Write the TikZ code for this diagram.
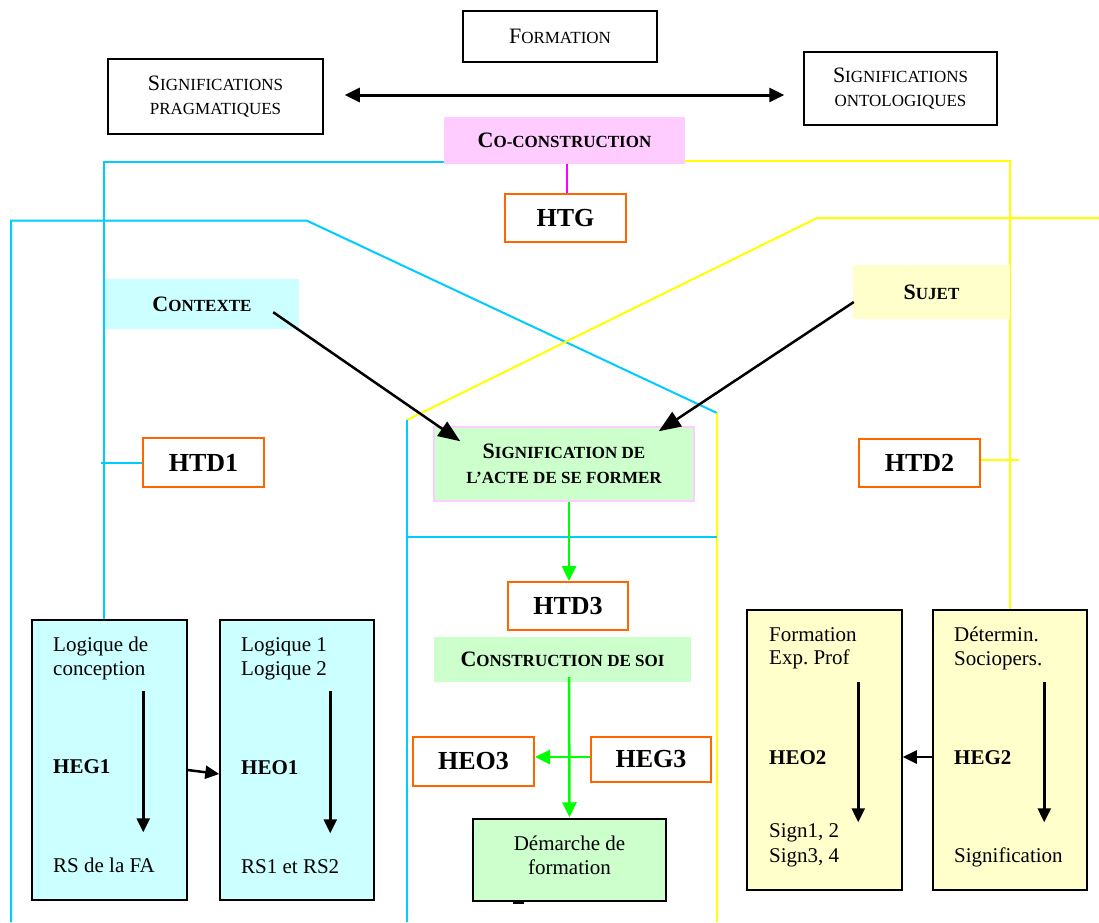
\documentclass[tikz,border=0pt]{standalone}
\usepackage{fontspec}
\setmainfont{Liberation Serif}
\usetikzlibrary{arrows.meta,calc,backgrounds}
\definecolor{cyanl}{RGB}{0,204,255}
\definecolor{yell}{RGB}{255,255,0}
\definecolor{orng}{RGB}{255,102,0}
\definecolor{pinkf}{RGB}{255,204,255}
\definecolor{cyanf}{RGB}{204,255,255}
\definecolor{yellf}{RGB}{255,255,204}
\definecolor{greenf}{RGB}{204,255,204}
\definecolor{greenl}{RGB}{0,255,0}
\definecolor{magl}{RGB}{255,0,255}
\newcommand\sck[2]{{\fontsize{22}{24}\selectfont #1}{\fontsize{17}{24}\selectfont #2}}
\frenchspacing
\begin{document}
\begin{tikzpicture}[x=1pt,y=-1pt,
  plainbox/.style={draw=black, line width=1.5pt, inner sep=0pt, align=center, font=\fontsize{17}{24}\selectfont},
  hbox/.style={draw=orng, line width=2pt, fill=white, inner sep=0pt, font=\bfseries\fontsize{26}{30}\selectfont},
  fillbox/.style={inner sep=0pt, align=center, font=\bfseries\fontsize{17}{25}\selectfont},
  colbox/.style={draw=black, line width=1.5pt, inner sep=0pt},
  txt/.style={anchor=base west, inner sep=0pt, font=\fontsize{21}{24}\selectfont},
  cyanline/.style={draw=cyanl, line width=2pt},
  yellowline/.style={draw=yell, line width=2pt},
  blackarrow/.style={draw=black, line width=2.5pt, -{Triangle[length=22pt,width=17pt]}},
  innerarrow/.style={draw=black, line width=2.5pt, -{Triangle[length=14pt,width=13pt]}},
  greenarrow/.style={draw=greenl, line width=2.5pt, -{Triangle[length=15pt,width=14pt]}},
  twoheads/.style={draw=black, line width=3pt, {Triangle[length=15pt,width=14pt]}-{Triangle[length=15pt,width=14pt]}}
]
\useasboundingbox (0,0) rectangle (1099,922);

% top boxes
\node[plainbox, minimum width=194pt, minimum height=51pt] (formation) at (560,36.5) {\sck{F}{ORMATION}};
\node[plainbox, minimum width=215pt, minimum height=75pt] (prag) at (215.5,96.5) {\sck{S}{IGNIFICATIONS}\\\sck{}{PRAGMATIQUES}};
\node[plainbox, minimum width=193pt, minimum height=73pt] (onto) at (900.5,88.5) {\sck{S}{IGNIFICATIONS}\\\sck{}{ONTOLOGIQUES}};

% filled labels
\node[fillbox, fill=pinkf, minimum width=241pt, minimum height=47pt] (coco) at (564.5,140.5) {\sck{C}{O-CONSTRUCTION}};
\node[fillbox, fill=cyanf, minimum width=194pt, minimum height=50pt] (contexte) at (202,304) {\sck{C}{ONTEXTE}};
\node[fillbox, fill=yellf, minimum width=157pt, minimum height=54pt] (sujet) at (931.5,292) {\sck{S}{UJET}};
\node[fillbox, fill=greenf, draw=pinkf, line width=1.5pt, minimum width=260pt, minimum height=74pt] (sig) at (564,464) {\sck{S}{IGNIFICATION DE}\\\sck{}{L’ACTE DE SE FORMER}};
\node[fillbox, fill=greenf, minimum width=257pt, minimum height=45pt] (csoi) at (562.5,659.5) {\sck{C}{ONSTRUCTION DE SOI}};

% orange boxes
\node[hbox, minimum width=121pt, minimum height=48pt] (htg) at (565.5,218) {HTG};
\node[hbox, minimum width=121pt, minimum height=49pt] (htd1) at (203.5,462.5) {HTD1};
\node[hbox, minimum width=121pt, minimum height=48pt] (htd2) at (919.5,463) {HTD2};
\node[hbox, minimum width=120pt, minimum height=48pt] (htd3) at (568,606) {HTD3};
\node[hbox, minimum width=121pt, minimum height=49pt] (heo3) at (473.5,761.5) {HEO3};
\node[hbox, minimum width=120pt, minimum height=45pt] (heg3) at (651,759.5) {HEG3};

% demarche
\node[colbox, fill=greenf, minimum width=193pt, minimum height=82pt] (dem) at (569.5,860) {};
\node[inner sep=0pt, align=center, font=\fontsize{21}{24}\selectfont, anchor=base] (demtxt) at (569.5,874) {Démarche de\\formation};
\fill (513,901) rectangle (524,904);

% bottom column boxes
\node[colbox, fill=cyanf, minimum width=155pt, minimum height=280pt] (b1) at (109.5,760) {};
\node[colbox, fill=cyanf, minimum width=154pt, minimum height=280pt] (b2) at (297,760) {};
\node[colbox, fill=yellf, minimum width=155pt, minimum height=280pt] (b3) at (824.5,750) {};
\node[colbox, fill=yellf, minimum width=154pt, minimum height=280pt] (b4) at (1010,750) {};

% texts in b1
\node[txt] (t11) at (53,651) {Logique de};
\node[txt] (t12) at (53,675) {conception};
\node[txt, font=\bfseries\fontsize{21}{24}\selectfont] (t13) at (53,773) {HEG1};
\node[txt] (t14) at (53,872) {RS de la FA};
% texts in b2
\node[txt] (t21) at (241,651) {Logique 1};
\node[txt] (t22) at (241,675) {Logique 2};
\node[txt, font=\bfseries\fontsize{21}{24}\selectfont] (t23) at (241,774) {HEO1};
\node[txt] (t24) at (241,873) {RS1 et RS2};
% texts in b3
\node[txt] (t31) at (769,641) {Formation};
\node[txt] (t32) at (769,664) {Exp. Prof};
\node[txt, font=\bfseries\fontsize{21}{24}\selectfont] (t33) at (769,764) {HEO2};
\node[txt] (t34) at (769,837) {Sign1, 2};
\node[txt] (t35) at (769,862) {Sign3, 4};
% texts in b4
\node[txt] (t41) at (954,641) {Détermin.};
\node[txt] (t42) at (954,665) {Sociopers.};
\node[txt, font=\bfseries\fontsize{21}{24}\selectfont] (t43) at (954,764) {HEG2};
\node[txt] (t44) at (954,862) {Signification};

% coloured lines on background
\begin{scope}[on background layer]
  \coordinate (cyTL) at (11,220.7);
  \coordinate (cyTM) at (307,220.7);
  \coordinate (cyR) at (717,413);
  \coordinate (yeTR) at (1099,218);
  \coordinate (yeTM) at (817,218);
  \coordinate (yeL) at (407,420);
  \draw[cyanline] (11,922) -- (cyTL) -- (cyTM) -- (cyR);
  \draw[yellowline] (cyR) -- (717,922);
  \draw[yellowline] (yeTR) -- (yeTM) -- (yeL);
  \draw[cyanline] (yeL) -- (407,922);
  \draw[cyanline] (yeL |- 0,537) -- (cyR |- 0,537);
  \draw[cyanline] ($(coco.west)+(0,21.5)$) -| ($(b1.north west)+(73,0)$);
  \draw[cyanline] (htd1.west) -- ++(-41,0);
  \draw[yellowline] ($(coco.east)+(0,20.5)$) -| ($(b4.north west)+(78,0)$);
  \draw[yellowline] ($(htd2.east)+(0,-3)$) -- ++(38,0);
  \draw[draw=magl, line width=2pt] ($(coco.south)+(2.5,-4)$) -- ($(htg.north)+(1.5,0)$);
\end{scope}

% arrows
\draw[twoheads, shorten <=21pt, shorten >=19pt] (prag.east |- 0,95) -- (onto.west |- 0,95);
\draw[blackarrow] ($(contexte.south east)+(-26,-17)$) -- ($(sig.north west)+(27,15)$);
\draw[blackarrow] ($(sujet.west)+(1,10)$) -- ($(sig.north east)+(-36,5)$);
\draw[greenarrow] (sig.south -| htd3.north) ++(1,0) -- ($(htd3.north)+(1,0)$);
\draw[greenarrow] ($(csoi.south)+(6.5,-5)$) -- ($(dem.north)+(0,-1)$);
\draw[greenarrow] ($(heg3.west)+(0,-2.5)$) -- ($(heo3.east |- heg3.west)+(0,-2.5)$);
\draw[innerarrow] ($(b1.east)+(0,10)$) -- ($(b2.west)+(0,14)$);
\draw[innerarrow] ($(b4.west)+(0,7)$) -- ($(b3.east)+(0,7)$);
\draw[innerarrow] ($(b1.north west)+(112,72)$) -- ($(b1.north west)+(112,213)$);
\draw[innerarrow] ($(b2.north west)+(111,72)$) -- ($(b2.north west)+(111,214)$);
\draw[innerarrow] ($(b3.north west)+(112,73)$) -- ($(b3.north west)+(112,213)$);
\draw[innerarrow] ($(b4.north west)+(112,73)$) -- ($(b4.north west)+(112,213)$);
\end{tikzpicture}
\end{document}
